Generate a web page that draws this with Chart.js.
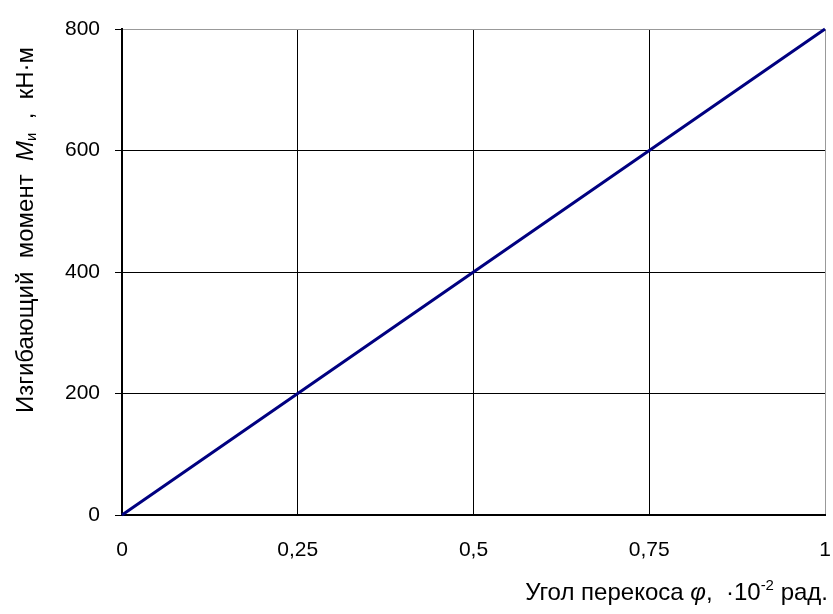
<!DOCTYPE html>
<html>
<head>
<meta charset="utf-8">
<script src="https://cdn.jsdelivr.net/npm/chart.js@4.4.1/dist/chart.umd.min.js"></script>
<style>
  html, body { margin: 0; padding: 0; background: #fff; }
  canvas { display: block; }
</style>
</head>
<body>
<canvas id="chart_container" width="833" height="614"></canvas>
<script>
// Угол перекоса, ·10^-2 рад.
const angles  = [0, 0.25, 0.5, 0.75, 1]
// Изгибающий момент, кН·м
const moments = [0, 200, 400, 600, 800]

const xTickLabels = ['0', '0,25', '0,5', '0,75', '1']
const yTickLabels = ['0', '200', '400', '600', '800']

const FONT = '"Liberation Sans", Arial, sans-serif'
const TICK_SIZE  = 21
const TITLE_SIZE = 24

// titles with italic letters, subscript and superscript
const titlesPlugin = {
    id: 'titles',
    afterDraw(chart) {
        const ctx = chart.ctx
        const draw = (parts, align) => {
            let widths = parts.map(p => { ctx.font = p.font; return ctx.measureText(p.text).width })
            let total = widths.reduce((a, b) => a + b, 0)
            let x = align == 'end' ? -total : -total / 2
            parts.forEach((p, i) => {
                ctx.font = p.font
                ctx.fillText(p.text, x, p.dy || 0)
                x += widths[i]
            })
        }
        const normal = TITLE_SIZE + 'px ' + FONT
        const italic = 'italic ' + TITLE_SIZE + 'px ' + FONT
        const small  = '15px ' + FONT

        ctx.save()
        ctx.fillStyle = '#000'
        ctx.textBaseline = 'alphabetic'

        // y title
        ctx.save()
        ctx.translate(33, 230)
        ctx.rotate(-Math.PI / 2)
        draw([
            { text: 'Изгибающий  момент  ', font: normal },
            { text: 'M', font: italic },
            { text: 'и', font: small, dy: 3 },
            { text: '  ,  кН·м', font: normal }
        ], 'center')
        ctx.restore()

        // x title
        ctx.save()
        ctx.translate(828, 600)
        draw([
            { text: 'Угол перекоса ', font: normal },
            { text: 'φ', font: italic },
            { text: ',  ·10', font: normal },
            { text: '-2', font: small, dy: -10 },
            { text: ' рад.', font: normal }
        ], 'end')
        ctx.restore()

        ctx.restore()
    }
}

const canvas = document.getElementById('chart_container')
const chart = new Chart(canvas, {
    type: 'scatter',
    data: {
        datasets: [{
            data: angles.map((a, i) => ({ x: a, y: moments[i] })),
            showLine: true,
            borderColor: '#000080',
            borderWidth: 3,
            pointRadius: 0,
            tension: 0,
            clip: false
        }]
    },
    options: {
        responsive: false,
        animation: false,
        layout: { padding: { top: 29, right: 8, left: 0, bottom: 0 } },
        plugins: {
            legend: { display: false },
            tooltip: { enabled: false }
        },
        scales: {
            x: {
                type: 'linear',
                min: 0,
                max: 1,
                afterFit: scale => {
                    scale.height = 99
                    scale.paddingLeft = 0
                    scale.paddingRight = 0
                },
                afterBuildTicks: scale => { scale.ticks = angles.map(v => ({ value: v })) },
                ticks: {
                    padding: 23,
                    color: '#000',
                    font: { family: FONT, size: TICK_SIZE },
                    callback: (v, i) => xTickLabels[i]
                },
                grid: {
                    color: ctx => ctx.index == angles.length - 1 ? '#999' : '#000',
                    lineWidth: 1,
                    drawTicks: false
                },
                border: { color: '#000', width: 2 }
            },
            y: {
                min: 0,
                max: 800,
                afterFit: scale => {
                    scale.width = 122
                    scale.paddingTop = 0
                    scale.paddingBottom = 0
                },
                afterBuildTicks: scale => { scale.ticks = moments.map(v => ({ value: v })) },
                ticks: {
                    padding: 15,
                    color: '#000',
                    font: { family: FONT, size: TICK_SIZE },
                    callback: (v, i) => yTickLabels[i]
                },
                grid: {
                    color: ctx => ctx.index == moments.length - 1 ? '#999' : '#000',
                    lineWidth: 1,
                    tickLength: 7,
                    tickColor: '#000'
                },
                border: { color: '#000', width: 2 }
            }
        }
    },
    plugins: [titlesPlugin]
})
</script>
</body>
</html>
